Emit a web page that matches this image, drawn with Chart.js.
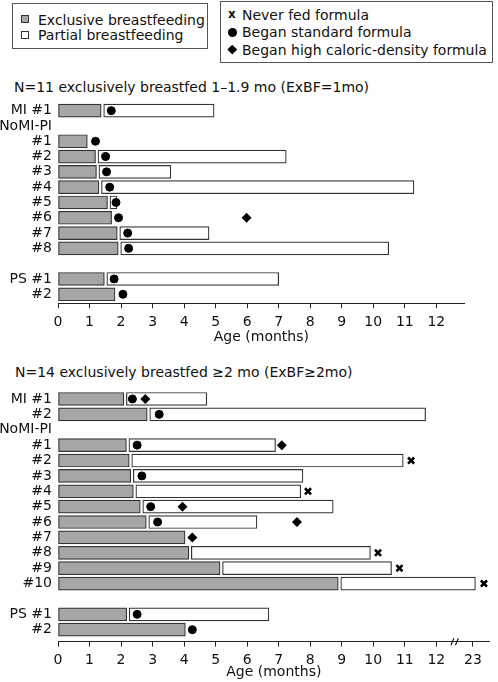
<!DOCTYPE html>
<html>
<head>
<meta charset="utf-8">
<script src="https://cdn.jsdelivr.net/npm/chart.js@4.4.1/dist/chart.umd.min.js"></script>
<style>
  body { margin: 0; background: #fff; }
  #page { position: relative; width: 498px; height: 682px; font-family: 'DejaVu Sans', sans-serif; font-size: 14px; color: #111; }
  .box { position: absolute; border: 1px solid #555; box-sizing: border-box; }
  .txt { position: absolute; line-height: 16px; white-space: nowrap; }
  .sq { position: absolute; width: 8px; height: 8px; border: 1px solid #333; box-sizing: border-box; }
  canvas { position: absolute; left: 0; }
</style>
</head>
<body>
<div id="page">
  <div class="box" style="left:12px;top:3px;width:196px;height:46px"></div>
  <div class="sq" style="left:21px;top:15px;background:#a6a6a6"></div>
  <div class="txt" style="left:38px;top:12px">Exclusive breastfeeding</div>
  <div class="sq" style="left:21px;top:31px;background:#fff"></div>
  <div class="txt" style="left:38px;top:27px">Partial breastfeeding</div>

  <div class="box" style="left:220px;top:1px;width:273px;height:62px"></div>
  <div class="txt" style="left:228px;top:6px;font-weight:bold;font-size:12px">x</div>
  <div class="txt" style="left:242px;top:7px">Never fed formula</div>
  <div style="position:absolute;left:228px;top:28px;width:9px;height:9px;border-radius:50%;background:#000"></div>
  <div class="txt" style="left:242px;top:24px">Began standard formula</div>
  <div style="position:absolute;left:229px;top:46px;width:6.5px;height:6.5px;background:#000;transform:rotate(45deg)"></div>
  <div class="txt" style="left:242px;top:42px">Began high caloric-density formula</div>

  <div class="txt" style="left:14px;top:79px">N=11 exclusively breastfed 1–1.9 mo (ExBF=1mo)</div>
  <canvas id="c1" width="498" height="251" style="top:96px"></canvas>

  <div class="txt" style="left:15px;top:364px">N=14 exclusively breastfed ≥2 mo (ExBF≥2mo)</div>
  <canvas id="c2" width="498" height="298" style="top:384px"></canvas>
</div>

<script>
// ---- data: ages in months, one entry per row (null = nothing on that row)
const p1Rows = ['MI #1', 'NoMI-PI', '#1', '#2', '#3', '#4', '#5', '#6', '#7', '#8', '', 'PS #1', '#2'];
const p1Exclusive = [1.37, null, 0.93, 1.19, 1.22, 1.30, 1.57, 1.70, 1.88, 1.91, null, 1.47, 1.81];
const p1PartialEnd = [4.95, null, null, 7.24, 3.58, 11.29, 1.87, null, 4.79, 10.49, null, 7.0, null];
const p1Standard = [1.69, null, 1.19, 1.51, 1.54, 1.64, 1.84, 1.92, 2.21, 2.24, null, 1.78, 2.06];
const p1HighCal = [null, null, null, null, null, null, null, 5.98, null, null, null, null, null];
const p1NeverFed = [null, null, null, null, null, null, null, null, null, null, null, null, null];

const p2Rows = ['MI #1', '#2', 'NoMI-PI', '#1', '#2', '#3', '#4', '#5', '#6', '#7', '#8', '#9', '#10', '', 'PS #1', '#2'];
const p2Exclusive = [2.09, 2.83, null, 2.17, 2.26, 2.31, 2.39, 2.61, 2.80, 4.03, 4.15, 5.14, 8.89, null, 2.18, 4.04];
const p2PartialEnd = [4.72, 11.66, null, 6.90, 10.95, 7.77, 7.70, 8.73, 6.31, null, 9.91, 10.58, 23.08, null, 6.69, null];
const p2Standard = [2.36, 3.21, null, 2.51, null, 2.66, null, 2.94, 3.16, null, null, null, null, null, 2.51, 4.26];
const p2HighCal = [2.77, null, null, 7.10, null, null, null, 3.95, 7.58, 4.26, null, null, null, null, null, null];
const p2NeverFed = [null, null, null, null, 11.20, null, 7.93, null, null, null, 10.15, 10.83, 23.35, null, null, null];

const p1TickLabels = ['0', '1', '2', '3', '4', '5', '6', '7', '8', '9', '10', '11', '12'];
const p2TickLabels = ['0', '1', '2', '3', '4', '5', '6', '7', '8', '9', '10', '11', '12', '23'];

// axis break: everything after 12 months is squeezed so that 23 sits just past 12
const BREAK_AFTER = 12;
const BREAK_LABEL = 23;
const BREAK_SLOT = 13.16;
const toAxis = v => v > BREAK_AFTER ? v - BREAK_LABEL + BREAK_SLOT : v;

Chart.defaults.font.family = "'DejaVu Sans', sans-serif";
Chart.defaults.font.size = 14;
Chart.defaults.color = '#111';

// small white gap between the grey and the white bar
const partialGap = {
  id: 'partialGap',
  afterDatasetsUpdate(chart) {
    chart.data.datasets.forEach((ds, i) => {
      if (!ds.startGap) return;
      chart.getDatasetMeta(i).data.forEach(el => { el.base += ds.startGap; });
    });
  }
};

// the "//" on the second x axis
const breakMarks = {
  id: 'breakMarks',
  afterDraw(chart) {
    const ctx = chart.ctx;
    const x = chart.scales.x.getPixelForValue(12.59);
    const y = chart.chartArea.bottom;
    ctx.save();
    ctx.strokeStyle = '#111';
    ctx.lineWidth = 1.1;
    ctx.beginPath();
    ctx.moveTo(x - 4, y + 3.5); ctx.lineTo(x - 1, y - 3.5);
    ctx.moveTo(x + 0.5, y + 3.5); ctx.lineTo(x + 3.5, y - 3.5);
    ctx.stroke();
    ctx.restore();
  }
};

function rowPoints(values) {
  return values.map((v, i) => v == null ? null : { x: toAxis(v), y: i }).filter(Boolean);
}

function makePanel(id, p) {
  const exclData = p.exclusive.map((v, i) => v == null ? null : { y: i, x: [0, v] }).filter(Boolean);
  const partData = p.partialEnd.map((v, i) => v == null ? null : { y: i, x: [p.exclusive[i], toAxis(v)] }).filter(Boolean);
  const tickVals = p.tickLabels.map(t => toAxis(+t));

  const marker = (label, data, style, radius, bw) => ({
    type: 'scatter', label, data,
    pointStyle: style, pointRadius: radius,
    pointBackgroundColor: '#000', pointBorderColor: '#000', pointBorderWidth: bw
  });

  new Chart(document.getElementById(id), {
    type: 'bar',
    data: {
      datasets: [
        marker('Never fed formula', rowPoints(p.neverFed), 'crossRot', 4.3, 2.6),
        marker('Began standard formula', rowPoints(p.standard), 'circle', 4, 1),
        marker('Began high caloric-density formula', rowPoints(p.highCal), 'rectRot', 5, 0),
        { label: 'Exclusive breastfeeding', data: exclData, backgroundColor: '#a6a6a6',
          borderColor: '#333', borderWidth: 1.2, borderSkipped: false, barThickness: 13, grouped: false },
        { label: 'Partial breastfeeding', data: partData, backgroundColor: '#fff', startGap: 2.5,
          borderColor: '#333', borderWidth: 1.2, borderSkipped: false, barThickness: 13, grouped: false }
      ]
    },
    options: {
      indexAxis: 'y',
      responsive: false,
      devicePixelRatio: 1,
      animation: false,
      events: [],
      layout: { padding: p.padding, autoPadding: false },
      plugins: { legend: { display: false }, tooltip: { enabled: false } },
      scales: {
        x: {
          type: 'linear', min: 0, max: p.xMax, offset: false,
          afterBuildTicks: s => { s.ticks = tickVals.map(v => ({ value: v })); },
          afterFit: s => { s.height = p.xAxisHeight; s.paddingLeft = 0; s.paddingRight = 0; },
          ticks: { autoSkip: false, maxRotation: 0, padding: p.tickPad,
            callback: (v, i) => p.tickLabels[i] },
          grid: { drawOnChartArea: false, drawTicks: true, tickLength: 5, color: '#222', lineWidth: 1 },
          border: { display: true, color: '#222', width: 1 },
          title: { display: true, text: 'Age (months)', padding: { top: 0, bottom: 0 } }
        },
        y: {
          type: 'linear', reverse: true, min: -0.5, max: p.yMax, offset: false,
          afterDataLimits: s => { s.min = -0.5; s.max = p.yMax; },
          afterBuildTicks: s => {
            s.ticks = p.rows.map((_, i) => ({ value: i }));
            s.min = -0.5; s.max = p.yMax;
          },
          afterFit: s => { s.width = 58; s.paddingTop = 0; s.paddingBottom = 0; },
          ticks: { autoSkip: false, padding: 6, callback: v => p.rows[v] },
          grid: { display: false, drawTicks: false },
          border: { display: false }
        }
      }
    },
    plugins: p.plugins
  });
}

makePanel('c1', {
  rows: p1Rows, exclusive: p1Exclusive, partialEnd: p1PartialEnd,
  standard: p1Standard, highCal: p1HighCal, neverFed: p1NeverFed,
  tickLabels: p1TickLabels, xMax: 12.9, yMax: 12.59, xAxisHeight: 42.8, tickPad: 5.3,
  padding: { top: 7, right: 33.3, bottom: 0.9, left: 0 },
  plugins: [partialGap]
});

makePanel('c2', {
  rows: p2Rows, exclusive: p2Exclusive, partialEnd: p2PartialEnd,
  standard: p2Standard, highCal: p2HighCal, neverFed: p2NeverFed,
  tickLabels: p2TickLabels, xMax: 13.69, yMax: 15.78, xAxisHeight: 39, tickPad: 4.9,
  padding: { top: 7.3, right: 8.4, bottom: 1.3, left: 0 },
  plugins: [partialGap, breakMarks]
});
</script>
</body>
</html>
